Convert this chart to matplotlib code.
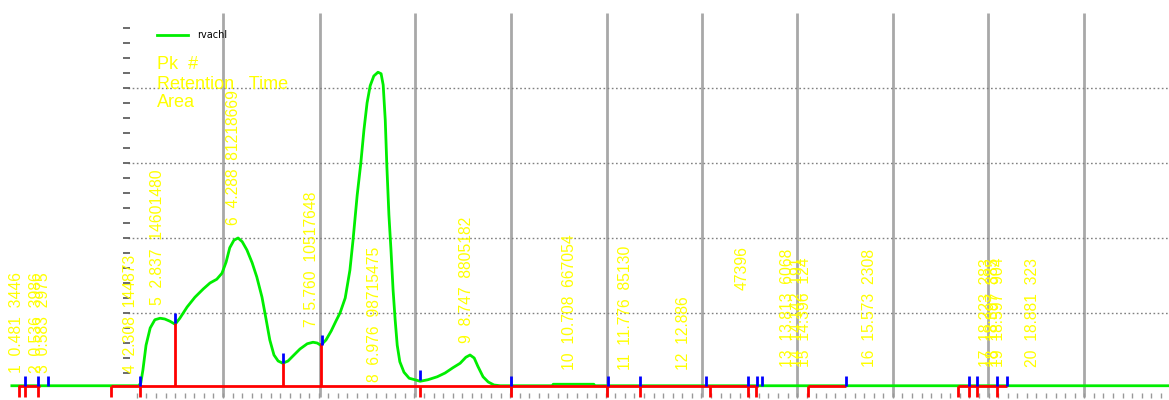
import numpy as np
from matplotlib import pyplot as plt

# detector trace, time (min) vs signal (mV)
sig_t = [-0.06, 2.38, 2.42, 2.46, 2.52, 2.60, 2.69, 2.79, 2.88, 2.98, 3.08, 3.17, 3.31, 3.46, 3.62,
         3.75, 3.88, 3.98, 4.06, 4.13, 4.21, 4.29, 4.37, 4.46, 4.56, 4.65, 4.75, 4.83, 4.90, 4.98,
         5.06, 5.15, 5.25, 5.35, 5.48, 5.62, 5.73, 5.81, 5.88, 5.98, 6.08, 6.17, 6.25, 6.35, 6.44,
         6.50, 6.58, 6.65, 6.71, 6.77, 6.83, 6.90, 6.98, 7.04, 7.08, 7.12, 7.15, 7.19, 7.23, 7.27,
         7.31, 7.35, 7.40, 7.48, 7.58, 7.69, 7.79, 7.94, 8.12, 8.27, 8.42, 8.56, 8.67, 8.75, 8.83,
         8.90, 9.00, 9.10, 9.21, 9.33, 10.33, 10.35, 11.13, 11.15, 22.2]
sig_v = [3, 3, 7, 24, 57, 80, 91, 93, 92, 89, 85, 93, 108, 121, 132,
         140, 145, 153, 168, 187, 197, 200, 195, 184, 167, 148, 121, 91, 64, 44,
         36, 33, 36, 43, 52, 59, 61, 60, 57, 64, 76, 89, 100, 120, 157,
         197, 257, 300, 344, 380, 403, 416, 421, 419, 404, 357, 297, 231, 184, 131,
         91, 57, 35, 21, 13, 11, 9, 11, 15, 20, 27, 33, 41, 44, 40,
         29, 15, 8, 4, 3, 3, 5, 5, 3, 3]

grid_t = [4.00, 5.87, 7.69, 9.54, 11.38, 13.21, 15.04, 16.88, 18.71, 20.56]
grid_v = [100, 200, 300, 400]

# integration baseline
base_v = 3
base_start = [0.06, 1.85, 15.25, 18.13]
base_end = [0.48, 14.29, 15.98, 19.08]
drop_t = [3.08, 5.15, 5.88]
drop_v = [87, 33, 60]
cut_t = [0.08, 0.19, 0.44, 1.85, 2.40, 7.79, 9.54, 11.38, 12.02, 13.37, 14.10, 14.25,
         15.25, 18.13, 18.35, 18.50, 18.88]
mark_t = [0.19, 0.44, 0.63, 2.40, 3.08, 5.15, 5.90, 7.79, 9.54, 11.40, 12.02, 13.29,
          14.10, 14.27, 14.37, 15.98, 18.35, 18.50, 18.88, 19.08]
mark_v = [3, 3, 3, 3, 87, 33, 57, 11, 3, 3, 3, 3, 3, 3, 3, 3, 3, 3, 3, 3]

# peak table
pk_num = ['1', '2', '3', '4', '5', '6', '7', '8', '9', '10',
          '11', '12', '13', '14', '15', '16', '17', '18', '19', '20']
pk_rt = ['0.481', '0.536', '0.583', '2.308', '2.837', '4.288', '5.760', '6.976', '8.747', '10.708',
         '11.776', '12.886', '13.813', '14.142', '14.396', '15.573', '18.223', '18.397', '18.597', '18.881']
pk_area = ['3446', '3986', '2975', '144873', '14601480', '81218669', '10517648', '98715475', '8805182', '667054',
           '85130', '', '6068', '191', '124', '2308', '283', '385', '904', '323']
lab_t = [0.02, 0.42, 0.54, 2.23, 2.75, 4.21, 5.71, 6.92, 8.69, 10.67,
         11.73, 12.85, 14.85, 15.04, 15.19, 16.44, 18.69, 18.81, 18.92, 19.56]
lab_v = [20, 20, 20, 20, 111, 217, 81, 8, 60, 24,
         24, 24, 28, 28, 28, 28, 28, 28, 28, 28]
extra_lab = ('47396', 13.98, 131)

fig = plt.figure(figsize=(11.69, 4.0), dpi=100)
ax = fig.add_axes([0, 0, 1, 1])
ax.axis('off')
ax.set_xlim(-0.288, 22.19)
ax.set_ylim(-16, 517.3)

yel = '#ffff00'
lab_font = ['Liberation Sans', 'DejaVu Sans']

# grid
ax.vlines(grid_t, -12, 500, color='#a8a8a8', lw=2, zorder=1)
ax.hlines(grid_v, 2.17, 22.19, color='#808080', lw=1, linestyles=(0, (1.2, 1.8)), zorder=1)
ax.hlines(np.arange(20, 481, 20), 2.08, 2.21, color='#606060', lw=1.3, zorder=1)
xt = np.arange(2.344, 22.2, 0.184)
ax.vlines(xt, -13.3, -6.7, color='#999999', lw=1, zorder=1)

# trace
ax.plot(sig_t, sig_v, color='#00ee00', lw=2, zorder=2, label='rvachl')

# baseline + peak cuts
ax.hlines([base_v] * len(base_start), base_start, base_end, color='#ff0000', lw=2, zorder=3)
ax.vlines(drop_t, base_v, drop_v, color='#ff0000', lw=2, zorder=3)
ax.vlines(cut_t, -12, base_v, color='#ff0000', lw=2, zorder=3)
ax.vlines(mark_t, mark_v, np.array(mark_v) + 13, color='#0000ff', lw=2, zorder=4)

# peak labels
for i in range(len(pk_num)):
	s = '  '.join([p for p in (pk_num[i], pk_rt[i], pk_area[i]) if p])
	ax.text(lab_t[i], lab_v[i], s, rotation=90, ha='center', va='bottom',
	        color=yel, fontsize=11.3, family=lab_font, zorder=5)
ax.text(extra_lab[1], extra_lab[2], extra_lab[0], rotation=90, ha='center', va='bottom',
        color=yel, fontsize=11.3, family=lab_font, zorder=5)

ax.text(2.73, 431, 'Pk  #', color=yel, fontsize=13, family='Liberation Sans', va='center', zorder=5)
ax.text(2.73, 404, 'Retention   Time', color=yel, fontsize=13, family='Liberation Sans', va='center', zorder=5)
ax.text(2.73, 380, 'Area', color=yel, fontsize=13, family='Liberation Sans', va='center', zorder=5)

ax.legend(loc='upper left', bbox_to_anchor=(157 / 1169, 1 - 30 / 400), frameon=False,
          fontsize=7, borderpad=0, borderaxespad=0, handlelength=3.2, handletextpad=0.9)

fig.savefig('out.png', dpi=100)
